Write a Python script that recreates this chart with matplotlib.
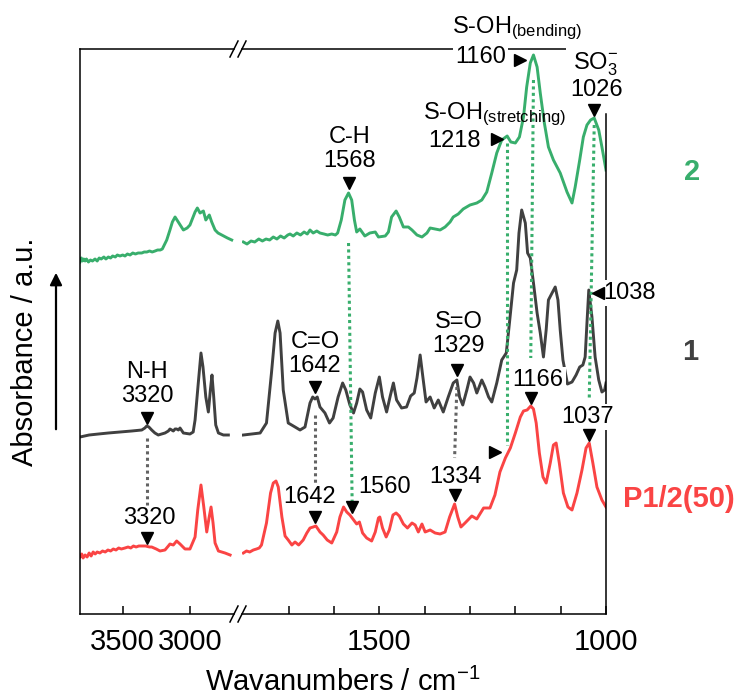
import matplotlib
matplotlib.use("Agg")
import matplotlib.pyplot as plt
from matplotlib.lines import Line2D
from matplotlib.patches import FancyArrowPatch

plt.rcParams["font.family"] = ["Liberation Sans", "DejaVu Sans"]
plt.rcParams["mathtext.fontset"] = "custom"
plt.rcParams["mathtext.rm"] = "Liberation Sans"
plt.rcParams["mathtext.it"] = "Liberation Sans:italic"
plt.rcParams["mathtext.bf"] = "Liberation Sans:bold"

GREEN = "#38ae6c"
GREY = "#404040"
RED = "#fa4444"
DOT_GREY = "#636363"

# ---- high wavenumber window (cm-1) ----
green_hi_wn = [3818, 3808, 3800, 3790, 3780, 3770, 3755, 3740, 3725, 3706,
               3690, 3675, 3660, 3640, 3625, 3607, 3590, 3575, 3555, 3540,
               3520, 3500, 3483, 3465, 3445, 3425, 3405, 3385, 3358, 3340,
               3320, 3300, 3280, 3259, 3240, 3220, 3205, 3172, 3148, 3130,
               3110, 3086, 3048, 3020, 2999, 2961, 2944, 2924, 2899, 2881,
               2855, 2837, 2812, 2790, 2762, 2720, 2688]
green_hi_abs = [3.52, 3.56, 3.53, 3.55, 3.53, 3.55, 3.52, 3.54, 3.53, 3.55,
                3.53, 3.56, 3.55, 3.57, 3.55, 3.57, 3.56, 3.58, 3.57, 3.59,
                3.58, 3.59, 3.58, 3.60, 3.59, 3.61, 3.60, 3.61, 3.61, 3.62,
                3.62, 3.63, 3.62, 3.63, 3.64, 3.64, 3.65, 3.74, 3.84, 3.92,
                3.97, 3.92, 3.84, 3.86, 3.89, 4.02, 4.06, 4.01, 4.03, 3.94,
                3.99, 3.92, 3.84, 3.81, 3.79, 3.76, 3.74]

grey_hi_wn = [3818, 3750, 3680, 3607, 3520, 3433, 3358, 3335, 3321, 3305,
              3284, 3260, 3235, 3185, 3160, 3148, 3135, 3123, 3110, 3098,
              3085, 3073, 3048, 2999, 2975, 2961, 2937, 2917, 2902, 2881,
              2862, 2847, 2835, 2822, 2807, 2787, 2750, 2713]
grey_hi_abs = [1.77, 1.79, 1.80, 1.81, 1.82, 1.83, 1.84, 1.86, 1.88, 1.87,
               1.84, 1.81, 1.79, 1.81, 1.83, 1.85, 1.84, 1.83, 1.85, 1.85,
               1.84, 1.86, 1.81, 1.80, 1.82, 1.94, 2.31, 2.61, 2.47, 2.17,
               2.02, 2.24, 2.39, 2.17, 1.89, 1.81, 1.79, 1.79]

red_hi_wn = [3818, 3805, 3795, 3780, 3765, 3750, 3735, 3720, 3705, 3690,
             3670, 3650, 3630, 3610, 3590, 3570, 3550, 3530, 3510, 3483,
             3460, 3440, 3420, 3400, 3380, 3358, 3330, 3300, 3284, 3250,
             3222, 3185, 3160, 3148, 3123, 3098, 3073, 3036, 2999, 2961,
             2941, 2917, 2896, 2874, 2857, 2842, 2827, 2812, 2787, 2738,
             2700]
red_hi_abs = [0.57, 0.60, 0.56, 0.59, 0.57, 0.61, 0.58, 0.62, 0.60, 0.62,
              0.61, 0.63, 0.62, 0.64, 0.63, 0.65, 0.64, 0.66, 0.65, 0.66,
              0.67, 0.66, 0.68, 0.67, 0.68, 0.68, 0.68, 0.67, 0.67, 0.65,
              0.63, 0.64, 0.68, 0.70, 0.69, 0.73, 0.70, 0.65, 0.65, 0.77,
              1.04, 1.29, 1.07, 0.82, 0.96, 1.07, 0.91, 0.71, 0.63, 0.61,
              0.59]

# ---- fingerprint window (cm-1) ----
green_lo_wn = [1800, 1792, 1783, 1775, 1766, 1758, 1750, 1742, 1734, 1726,
               1718, 1710, 1702, 1697, 1690, 1682, 1674, 1666, 1659, 1653,
               1646, 1638, 1631, 1622, 1614, 1605, 1597, 1592, 1584, 1576,
               1568, 1561, 1555, 1550, 1543, 1532, 1521, 1509, 1502, 1487,
               1480, 1473, 1463, 1456, 1447, 1436, 1428, 1417, 1406, 1395,
               1388, 1377, 1366, 1355, 1344, 1337, 1326, 1315, 1300, 1285,
               1274, 1263, 1252, 1241, 1230, 1218, 1210, 1200, 1191, 1182,
               1175, 1167, 1160, 1152, 1145, 1136, 1127, 1116, 1101, 1086,
               1075, 1068, 1058, 1050, 1042, 1034, 1026, 1016, 1009, 1000]
green_lo_abs = [3.72, 3.70, 3.73, 3.72, 3.75, 3.73, 3.75, 3.74, 3.77, 3.75,
                3.78, 3.76, 3.79, 3.80, 3.78, 3.81, 3.79, 3.82, 3.80, 3.84,
                3.81, 3.83, 3.81, 3.80, 3.79, 3.80, 3.79, 3.81, 3.94, 4.14,
                4.21, 4.14, 3.94, 3.82, 3.85, 3.78, 3.81, 3.82, 3.77, 3.78,
                3.82, 3.97, 4.03, 3.97, 3.87, 3.87, 3.84, 3.79, 3.77, 3.81,
                3.86, 3.85, 3.84, 3.87, 3.92, 3.97, 4.00, 4.05, 4.09, 4.11,
                4.14, 4.22, 4.41, 4.61, 4.74, 4.78, 4.72, 4.71, 4.77, 4.97,
                5.27, 5.51, 5.59, 5.47, 5.21, 4.91, 4.67, 4.54, 4.41, 4.22,
                4.11, 4.27, 4.54, 4.77, 4.89, 4.94, 4.96, 4.84, 4.67, 4.44]

grey_lo_wn = [1800, 1763, 1749, 1738, 1730, 1724, 1719, 1712, 1701, 1686,
              1675, 1664, 1653, 1647, 1642, 1637, 1631, 1620, 1610, 1602,
              1591, 1581, 1574, 1565, 1557, 1550, 1543, 1537, 1528, 1519,
              1509, 1500, 1493, 1484, 1476, 1469, 1462, 1451, 1440, 1431,
              1423, 1417, 1410, 1404, 1397, 1388, 1379, 1370, 1359, 1348,
              1337, 1329, 1323, 1316, 1307, 1300, 1292, 1285, 1274, 1267,
              1259, 1252, 1241, 1230, 1220, 1213, 1204, 1197, 1192, 1186,
              1178, 1173, 1167, 1160, 1152, 1145, 1138, 1132, 1127, 1119,
              1112, 1106, 1101, 1095, 1085, 1075, 1066, 1058, 1051, 1046,
              1042, 1038, 1031, 1024, 1016, 1009, 1003, 1000]
grey_lo_abs = [1.79, 1.81, 1.91, 2.41, 2.81, 2.93, 2.81, 2.24, 1.91, 1.87,
               1.84, 1.87, 2.11, 2.17, 2.15, 2.17, 2.07, 2.01, 1.91, 1.96,
               2.17, 2.31, 2.24, 2.09, 2.01, 2.11, 2.25, 2.22, 2.04, 1.96,
               2.21, 2.37, 2.17, 2.02, 2.18, 2.31, 2.14, 2.06, 2.07, 2.18,
               2.21, 2.36, 2.59, 2.37, 2.12, 2.17, 2.06, 2.14, 2.02, 2.17,
               2.31, 2.34, 2.17, 2.09, 2.24, 2.37, 2.31, 2.21, 2.34, 2.27,
               2.17, 2.12, 2.31, 2.54, 2.61, 2.91, 3.31, 3.44, 3.81, 4.04,
               3.91, 3.61, 3.56, 3.31, 3.01, 2.81, 2.57, 2.84, 3.14, 3.21,
               3.27, 3.14, 2.84, 2.54, 2.30, 2.32, 2.39, 2.47, 2.49, 2.57,
               2.91, 3.24, 2.97, 2.57, 2.34, 2.22, 2.24, 2.31]

red_lo_wn = [1800, 1793, 1786, 1778, 1771, 1765, 1760, 1749, 1740, 1734,
             1728, 1723, 1715, 1708, 1701, 1693, 1686, 1678, 1668, 1660,
             1653, 1646, 1640, 1631, 1624, 1615, 1605, 1594, 1587, 1579,
             1572, 1565, 1560, 1550, 1544, 1537, 1528, 1517, 1509, 1502,
             1499, 1493, 1485, 1478, 1470, 1463, 1456, 1447, 1438, 1428,
             1421, 1414, 1406, 1399, 1388, 1377, 1366, 1355, 1345, 1334,
             1327, 1320, 1311, 1296, 1285, 1270, 1256, 1245, 1234, 1222,
             1211, 1200, 1189, 1182, 1174, 1166, 1160, 1154, 1147, 1139,
             1132, 1123, 1116, 1110, 1103, 1094, 1084, 1075, 1064, 1053,
             1044, 1037, 1029, 1020, 1009, 1000]
red_lo_abs = [0.61, 0.63, 0.62, 0.64, 0.65, 0.66, 0.69, 0.91, 1.21, 1.31,
              1.33, 1.27, 0.97, 0.78, 0.74, 0.69, 0.72, 0.69, 0.74, 0.81,
              0.86, 0.87, 0.88, 0.82, 0.79, 0.74, 0.71, 0.82, 0.97, 1.07,
              1.02, 0.99, 0.96, 0.90, 0.92, 0.81, 0.76, 0.73, 0.82, 0.96,
              0.97, 0.86, 0.77, 0.84, 0.99, 1.01, 0.98, 0.90, 0.86, 0.91,
              0.89, 0.82, 0.90, 0.82, 0.84, 0.81, 0.80, 0.82, 0.97, 1.10,
              0.97, 0.87, 0.91, 0.98, 0.95, 1.06, 1.06, 1.19, 1.42, 1.56,
              1.66, 1.81, 1.97, 2.03, 2.04, 2.08, 2.05, 1.91, 1.61, 1.37,
              1.31, 1.51, 1.69, 1.71, 1.51, 1.21, 1.07, 1.04, 1.21, 1.44,
              1.66, 1.71, 1.51, 1.27, 1.14, 1.07]

# dotted guide lines: (wn_top, wn_bottom, abs_top, abs_bottom)
grey_links_hi = [(3320, 3320, 1.76, 1.09)]
grey_links_lo = [(1642, 1642, 1.99, 1.29), (1329, 1334, 2.27, 1.56)]
green_links_lo = [(1568, 1560, 3.71, 1.11), (1218, 1218, 4.71, 1.69),
                  (1160, 1166, 5.34, 2.56), (1026, 1037, 4.89, 2.14)]

FS_TICK = 21
FS_NOTE = 17
LINK_STYLE = dict(linestyle=(0, (1, 1.1)), lw=2.2, zorder=3)


def px(x, y):
    return x / 738.0, 1 - y / 696.0


def note(ax, wn, y, text, ha="center", va="center", box=False, pad=1.5, **kw):
    bbox = dict(facecolor="white", edgecolor="none", pad=pad) if box else None
    ax.text(wn, y, text, fontsize=FS_NOTE, ha=ha, va=va, bbox=bbox,
            zorder=5, clip_on=False, **kw)


def mark(ax, wn, y, m="v"):
    ax.plot([wn], [y], marker=m, color="black", markersize=8, ls="none",
            zorder=6, clip_on=False)


def style_axes(ax, side):
    ax.set_ylim(0, 5.65)
    ax.set_yticks([])
    for s in ax.spines.values():
        s.set_linewidth(1.1)
    if side == "left":
        ax.spines["right"].set_visible(False)
    else:
        ax.spines["left"].set_visible(False)
        ax.spines["right"].set_bounds(0, 5.0)
    ax.tick_params(axis="x", direction="in", length=6, width=1.1,
                   labelsize=FS_TICK, pad=10, top=False)


fig = plt.figure(figsize=(7.38, 6.96), dpi=100)
ax_hi = fig.add_axes([80 / 738, 1 - 614 / 696, 154 / 738, 565 / 696])
ax_lo = fig.add_axes([242 / 738, 1 - 614 / 696, 364 / 738, 565 / 696])

ax_hi.set_xlim(3818, 2671)
ax_lo.set_xlim(1803, 1000)
style_axes(ax_hi, "left")
style_axes(ax_lo, "right")
ax_hi.set_xticks([3500, 3000])
ax_lo.set_xticks(list(range(1000, 1800, 100)))
ax_lo.set_xticklabels(["1000", "", "", "", "", "1500", "", ""])

for ax, spectra in ((ax_hi, [(green_hi_wn, green_hi_abs, GREEN),
                             (grey_hi_wn, grey_hi_abs, GREY),
                             (red_hi_wn, red_hi_abs, RED)]),
                    (ax_lo, [(green_lo_wn, green_lo_abs, GREEN),
                             (grey_lo_wn, grey_lo_abs, GREY),
                             (red_lo_wn, red_lo_abs, RED)])):
    for wn, ab, c in spectra:
        ax.plot(wn, ab, color=c, lw=2.1, zorder=2)

for w0, w1, y0, y1 in grey_links_hi:
    ax_hi.plot([w0, w1], [y0, y1], color=DOT_GREY, **LINK_STYLE)
for w0, w1, y0, y1 in grey_links_lo:
    ax_lo.plot([w0, w1], [y0, y1], color=DOT_GREY, **LINK_STYLE)
for w0, w1, y0, y1 in green_links_lo:
    ax_lo.plot([w0, w1], [y0, y1], color=GREEN, **LINK_STYLE)

# N-H region
note(ax_hi, 3320, 2.30, "N-H\n3320", linespacing=1.15)
mark(ax_hi, 3320, 1.96)
note(ax_hi, 3305, 0.96, "3320")
mark(ax_hi, 3320, 0.76)

# sample 2
note(ax_lo, 1566, 4.65, "C-H\n1568", linespacing=1.15)
mark(ax_lo, 1568, 4.31)
note(ax_lo, 1404, 4.95, r"S-OH$_\mathregular{(stretching)}$", ha="left", va="baseline")
note(ax_lo, 1335, 4.73, "1218")
mark(ax_lo, 1240, 4.75, ">")
note(ax_lo, 1340, 5.805, r"S-OH$_\mathregular{(bending)}$", ha="left", va="baseline")
note(ax_lo, 1276, 5.57, "1160", box=True)
mark(ax_lo, 1189, 5.54, ">")
note(ax_lo, 1073, 5.44, r"SO$_\mathregular{3}^{\mathregular{-}}$", ha="left",
     va="baseline", box=True, pad=5)
note(ax_lo, 1020, 5.24, "1026", box=True)
mark(ax_lo, 1026, 5.04)

# sample 1
note(ax_lo, 1642, 2.60, "C=O\n1642", linespacing=1.15)
mark(ax_lo, 1642, 2.27)
note(ax_lo, 1325, 2.80, "S=O\n1329", linespacing=1.15)
mark(ax_lo, 1329, 2.44)
note(ax_lo, 1006, 3.21, "1038", ha="left", box=True)
mark(ax_lo, 1017, 3.21, "<")

# P1/2(50)
note(ax_lo, 1653, 1.17, "1642")
mark(ax_lo, 1642, 0.97)
note(ax_lo, 1547, 1.27, "1560", ha="left")
mark(ax_lo, 1560, 1.07)
note(ax_lo, 1331, 1.37, "1334")
mark(ax_lo, 1334, 1.19)
mark(ax_lo, 1244, 1.62, ">")
note(ax_lo, 1150, 2.34, "1166", box=True)
mark(ax_lo, 1166, 2.16)
note(ax_lo, 1041, 1.97, "1037", box=True)
mark(ax_lo, 1037, 1.79)

# series names
fig.text(*px(692, 172), "2", color=GREEN, fontsize=21, fontweight="bold",
         ha="center", va="center")
fig.text(*px(690, 352), "1", color=GREY, fontsize=21, fontweight="bold",
         ha="center", va="center")
fig.text(*px(679, 499), "P1/2(50)", color=RED, fontsize=21, fontweight="bold",
         ha="center", va="center")

# axis titles and the upward arrow
fig.text(*px(343, 682), r"Wavanumbers / cm$^{\mathregular{-1}}$", fontsize=FS_TICK,
         ha="center", va="center")
fig.text(*px(25, 352), "Absorbance / a.u.", fontsize=FS_TICK, rotation=90,
         ha="center", va="center")
fig.patches.append(FancyArrowPatch(
    px(56, 432), px(56, 270), transform=fig.transFigure, arrowstyle="-|>",
    mutation_scale=18, lw=1.6, color="black"))

# axis break marks
for bx in (234, 242):
    for by in (49, 614):
        x0, y0 = px(bx - 4, by + 8)
        x1, y1 = px(bx + 4, by - 8)
        fig.lines.append(Line2D([x0, x1], [y0, y1], transform=fig.transFigure,
                                color="black", lw=1.1))

fig.savefig("out.png", dpi=100)
plt.close(fig)
